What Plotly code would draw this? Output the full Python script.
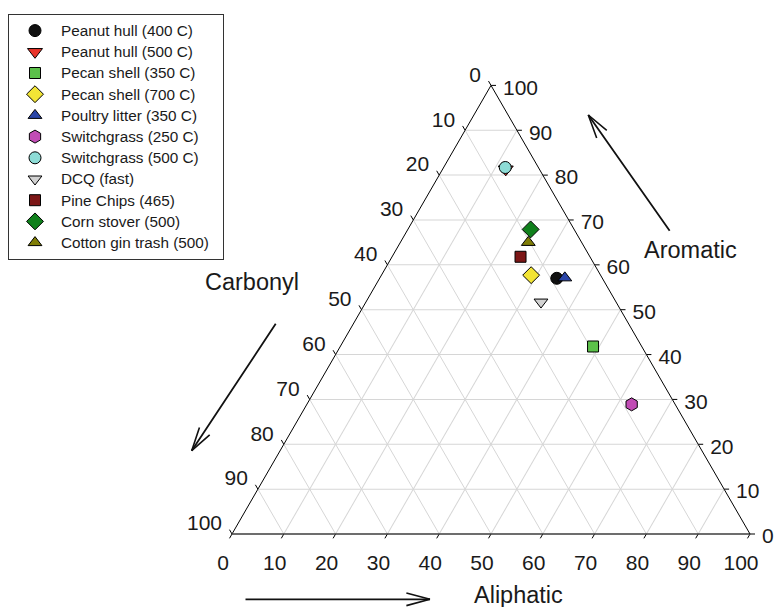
import math
import plotly.graph_objects as go

# ---------------- data (percent) ----------------
names = ["Peanut hull (400 C)", "Peanut hull (500 C)", "Pecan shell (350 C)",
         "Pecan shell (700 C)", "Poultry litter (350 C)", "Switchgrass (250 C)",
         "Switchgrass (500 C)", "DCQ (fast)", "Pine Chips (465)",
         "Corn stover (500)", "Cotton gin trash (500)"]
aromatic = [57.0, 81.3, 41.8, 57.7, 57.1, 28.9, 81.7, 51.7, 61.8, 67.9, 65.0]
aliphatic = [34.2, 12.2, 48.8, 28.9, 35.7, 62.7, 11.9, 33.8, 24.8, 23.7, 24.7]
carbonyl = [8.8, 6.5, 9.4, 13.4, 7.2, 8.4, 6.4, 14.5, 13.4, 8.4, 10.3]

symbols = ["circle", "triangle-down", "square", "diamond", "triangle-up", "hexagon",
           "circle", "triangle-down", "square", "diamond", "triangle-up"]
colors = ["#111111", "#e8342a", "#5cc14a", "#f2e435", "#2a45a8", "#c14cb5",
          "#8ddcd6", "#d2d2d2", "#7c1616", "#10801c", "#7f7d06"]
sizes = [12, 13, 11, 13, 12, 13, 12, 12, 11, 13, 12]

tick_vals = [0, 10, 20, 30, 40, 50, 60, 70, 80, 90, 100]
tick_text = [str(v) for v in tick_vals]

# ---------------- geometry ----------------
W, H = 775, 607
X0, X1, YB = 232, 750, 534          # triangle left / right / bottom (px)
S = (X1 - X0) / 100.0               # px per percent
R3 = math.sqrt(3) / 2
FONT = "Liberation Sans, Arial, Helvetica, sans-serif"
TXT = "#1a1a1a"


def xy(a, b, c):
    """ternary (percent) -> overlay cartesian units (percent of edge length)"""
    return c + a / 2.0, a * R3


fig = go.Figure()

# data points on the ternary subplot
for i, n in enumerate(names):
    fig.add_trace(go.Scatterternary(
        a=[aromatic[i]], b=[carbonyl[i]], c=[aliphatic[i]],
        mode="markers",
        name='<span style="font-size:15.3px">' + n + '&nbsp;&nbsp;</span>',
        marker=dict(symbol=symbols[i], color=colors[i], size=sizes[i],
                    line=dict(color="black", width=1)),
    ))

# ---------------- tick marks and tick labels (overlay cartesian axes) -------
TL = 5.0 / S  # tick length in units


def edge_ticks(points, direction):
    xs, ys = [], []
    ux, uy = direction
    for (x, y) in points:
        xs += [x, x + ux * TL, None]
        ys += [y, y + uy * TL, None]
    fig.add_trace(go.Scatter(x=xs, y=ys, mode="lines", xaxis="x", yaxis="y",
                             line=dict(color="black", width=1),
                             showlegend=False, hoverinfo="skip"))


def edge_labels(points, dpx, dpy, pos):
    xs = [x + dpx / S for (x, y) in points]
    ys = [y - dpy / S for (x, y) in points]
    fig.add_trace(go.Scatter(x=xs, y=ys, text=tick_text, mode="text", textposition=pos,
                             xaxis="x", yaxis="y", cliponaxis=False,
                             textfont=dict(family=FONT, size=21, color=TXT),
                             showlegend=False, hoverinfo="skip"))


# Aromatic values along the right edge (Carbonyl = 0)
right_pts = [xy(v, 0, 100 - v) for v in tick_vals]
edge_ticks(right_pts, (1.0, 0.0))
edge_labels(right_pts, 12, 4, "middle right")

# Carbonyl values along the left edge (Aliphatic = 0)
left_pts = [xy(100 - v, v, 0) for v in tick_vals]
edge_ticks(left_pts, (-0.5, R3))
edge_labels(left_pts, -10, -9, "middle left")

# Aliphatic values along the bottom edge (Aromatic = 0)
bottom_pts = [xy(0, 100 - v, v) for v in tick_vals]
edge_ticks(bottom_pts, (-0.5, -R3))
edge_labels(bottom_pts, -9, 31, "middle center")

axis_common = dict(showticklabels=False, ticks="", showline=True, linecolor="black",
                   linewidth=1, showgrid=True, gridcolor="#d6d6d6", gridwidth=1,
                   tick0=0, dtick=10, title=dict(text=""))
bottom_axis = dict(axis_common, linecolor="#3c3c3c", linewidth=1.6)

hidden = dict(visible=False, showgrid=False, zeroline=False, fixedrange=True)
yc = 1 - (YB - 50 * R3 * S) / H

fig.update_layout(
    width=W, height=H,
    margin=dict(l=0, r=0, t=0, b=0),
    paper_bgcolor="white",
    plot_bgcolor="rgba(0,0,0,0)",
    font=dict(family=FONT, color=TXT),
    xaxis=dict(domain=[0, 1], range=[-X0 / S, (W - X0) / S], **hidden),
    yaxis=dict(domain=[0, 1], range=[-(H - YB) / S, YB / S], **hidden),
    ternary=dict(sum=100, bgcolor="white",
                 domain=dict(x=[X0 / W, X1 / W], y=[yc - 0.377, yc + 0.377]),
                 aaxis=axis_common, baxis=bottom_axis, caxis=axis_common),
    legend=dict(x=8 / W, y=1 - 14 / H, xanchor="left", yanchor="top",
                bordercolor="#333333", borderwidth=1, bgcolor="white",
                font=dict(size=14, family=FONT, color=TXT),
                itemwidth=42),
    showlegend=True,
)

# ---------------- axis titles ----------------
title_font = dict(family=FONT, size=23.5, color=TXT)
for txt, px, py in [("Aromatic", 690, 250), ("Carbonyl", 251.7, 281.5),
                    ("Aliphatic", 518.5, 595)]:
    fig.add_annotation(x=px / W, y=1 - py / H, xref="paper", yref="paper",
                       xanchor="center", yanchor="middle", text=txt,
                       showarrow=False, font=title_font)

# ---------------- direction arrows (open V heads) ----------------
arrows = [((588.3, 115.0), (670.7, 232.3)),
          ((191.7, 450.7), (276.7, 322.3)),
          ((430.0, 599.3), (244.0, 599.3))]
line_style = dict(xref="paper", yref="paper", text="", showarrow=True, arrowhead=0,
                  arrowcolor="#111111", standoff=0, startstandoff=0)
HEAD_L, HEAD_ANG = 26.0, math.radians(15)
for (tx, ty), (sx, sy) in arrows:
    vx, vy = sx - tx, sy - ty
    fig.add_annotation(x=tx / W, y=1 - ty / H, ax=vx, ay=vy, arrowwidth=1.8, **line_style)
    ln = math.hypot(vx, vy)
    ux, uy = vx / ln, vy / ln
    for sgn in (1, -1):
        ca, sa = math.cos(sgn * HEAD_ANG), math.sin(sgn * HEAD_ANG)
        rx, ry = ux * ca - uy * sa, ux * sa + uy * ca
        fig.add_annotation(x=tx / W, y=1 - ty / H, ax=rx * HEAD_L, ay=ry * HEAD_L,
                           arrowwidth=1.6, **line_style)

# the page body gets no default 8px margin, so the 775x607 figure fills the window
fig.write_html("out.html",
               config={"displayModeBar": False},
               post_script="document.body.style.margin='0';"
                           "document.body.style.overflow='hidden';")
